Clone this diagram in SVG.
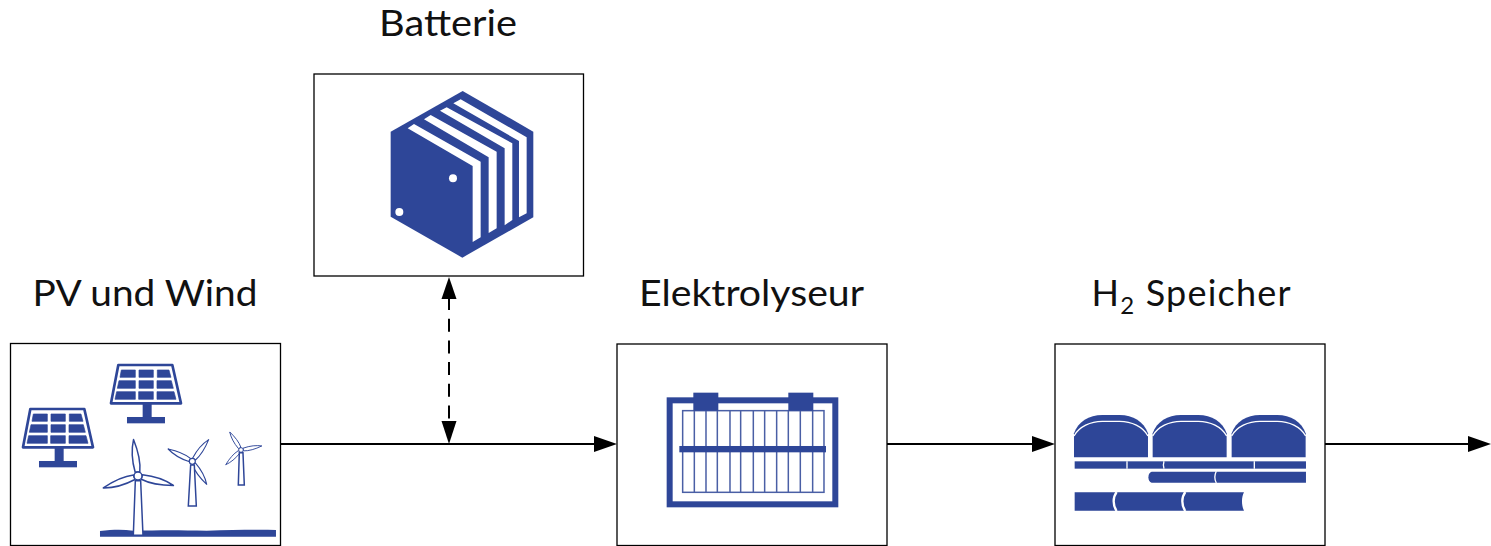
<svg xmlns="http://www.w3.org/2000/svg" xmlns:xlink="http://www.w3.org/1999/xlink" width="1491" height="546" viewBox="0 0 1491 546">
<style>
.box{fill:#fff;stroke:#000;stroke-width:1.3}
.lbl{font-family:"Lato","Carlito","Liberation Sans",sans-serif;font-size:36px;fill:#111}
.n{fill:#2e4698}
.w{fill:#fff}
.blade{fill:#fff;stroke:#2e4698;stroke-width:4.5;stroke-linejoin:round}
.tower{fill:#fff;stroke:#2e4698;stroke-width:4.5}
.con{fill:none;stroke:#000;stroke-width:2}
.grid{fill:none;stroke:#4a5fa5;stroke-width:4.5}
</style>
<defs>
<marker id="arrow" markerUnits="userSpaceOnUse" markerWidth="24" markerHeight="18" refX="3" refY="8" orient="auto-start-reverse"><path d="M0,0L23,8L0,16Z" fill="#000"/></marker>
<g id="panel">
<path d="M355,75H517L543,190H333Z" fill="#fff" stroke="#2e4698" stroke-width="8" stroke-linejoin="round"/>
<path class="n" stroke="#2e4698" stroke-width="2" d="M364,90H406V112H360ZM417,90H460V112H417ZM472,90H507L513,112H472ZM357,122H406V145H352ZM417,122H460V145H417ZM471,122H514L520,145H471ZM350,155H406V178H345ZM416,155H460V178H416ZM471,155H522L528,178H471Z"/>
<rect class="n" x="428" y="190" width="27" height="44"/>
<rect class="n" x="381" y="231" width="114" height="19"/>
</g>
<path id="blade" class="blade" d="M0,-110C10,-72 13,-40 7,-12L-7,-12C-13,-50 -9,-85 0,-110Z"/>
<path id="dome" class="n" d="M0,172V100C12,65 45,45 85,45H137C177,45 210,65 222,100V172Z"/>
<path id="arc" d="M0,108C15,80 50,64 85,64H137C172,64 207,80 222,108" fill="none" stroke="#fff" stroke-width="4"/>
</defs>
<g id="connectors">
<path class="con" d="M281,444H597" marker-end="url(#arrow)"/>
<path class="con" d="M887,444H1035" marker-end="url(#arrow)"/>
<path class="con" d="M1325,444H1471" marker-end="url(#arrow)"/>
<path class="con" d="M449,297V421" stroke-dasharray="13 8.7"/>
<path d="M449,277L456.5,299H441.5Z" fill="#000"/>
<path d="M449,444L456.5,421H441.5Z" fill="#000"/>
</g>
<g id="node-pv">
<rect class="box" x="10.5" y="343.5" width="270" height="202"/>
<text class="lbl" x="32.500" y="306" textLength="225" lengthAdjust="spacingAndGlyphs">PV und Wind</text>
<g transform="translate(0,340) scale(.3333)">
<use href="#panel"/>
<use href="#panel" transform="translate(-264,132)"/>
<path class="n" d="M300,573C340,568 370,568 400,572C480,570 540,570 620,572C700,570 770,569 828,570V590H300Z"/>
<g transform="translate(414,408)"><use href="#blade" transform="rotate(-7)"/><use href="#blade" transform="rotate(-109)"/><use href="#blade" transform="rotate(105)"/></g>
<path class="tower" d="M406,422L400,586H429L422,422Z"/>
<circle cx="414" cy="408" r="12" class="w" stroke="#2e4698" stroke-width="4.500"/>
<g transform="translate(577,364) scale(.74)"><use href="#blade" transform="rotate(-63)"/><use href="#blade" transform="rotate(37)"/><use href="#blade" transform="rotate(148)"/></g>
<path class="tower" d="M572,375L565,498H589L583,375Z" stroke-width="3.500"/>
<circle cx="577" cy="364" r="9" class="w" stroke="#2e4698" stroke-width="3.500"/>
<g transform="translate(723,330) scale(.58)"><use href="#blade" transform="rotate(-32)"/><use href="#blade" transform="rotate(79)"/><use href="#blade" transform="rotate(-134)"/></g>
<path class="tower" d="M718,338L715,435H733L729,338Z" stroke-width="3.500"/>
<circle cx="723" cy="330" r="7" class="w" stroke="#2e4698" stroke-width="3"/>
</g>
</g>
<g id="node-batterie">
<rect class="box" x="314" y="74" width="269.500" height="202"/>
<text class="lbl" x="379" y="36" textLength="138" lengthAdjust="spacingAndGlyphs">Batterie</text>
<g transform="translate(370,80) scale(.3333)">
<path class="n" d="M278,33L490,155V412L277,533L62,410V155Z"/>
<path class="w" d="M113,145L132,132L332,245V472L308,486V258ZM162,118L182,105L380,215V445L356,459V232ZM210,92L230,82L427,190V420L404,436V205ZM250,70L272,58L470,172V400L447,412V183Z"/>
<circle class="w" cx="249" cy="295" r="12"/>
<circle class="w" cx="88" cy="396" r="12"/>
</g>
</g>
<g id="node-elektrolyseur">
<rect class="box" x="617" y="344" width="270" height="201.500"/>
<text class="lbl" x="639" y="306" textLength="225" lengthAdjust="spacingAndGlyphs">Elektrolyseur</text>
<g transform="translate(650,380) scale(.3333)">
<rect x="59" y="61" width="497" height="312" fill="none" stroke="#2e4698" stroke-width="18"/>
<rect class="grid" x="98" y="92" width="424" height="245"/>
<path class="grid" d="M133,92V337M168,92V337M202,92V337M240,92V337M272,92V337M310,92V337M344,92V337M380,92V337M415,92V337M451,92V337M488,92V337"/>
<rect class="n" x="130" y="38" width="75" height="54"/>
<rect class="n" x="415" y="38" width="75" height="54"/>
<rect class="n" x="88" y="198" width="440" height="19"/>
</g>
</g>
<g id="node-h2-speicher">
<rect class="box" x="1055" y="344" width="270" height="201.500"/>
<text class="lbl" x="1091.500" y="306" textLength="199">H<tspan font-size="24" dy="8">2</tspan><tspan dy="-8"> Speicher</tspan></text>
<g transform="translate(1060,400) scale(.3333)">
<use href="#dome" x="42"/><use href="#arc" x="42"/>
<use href="#dome" x="278"/><use href="#arc" x="278"/>
<use href="#dome" x="515"/><use href="#arc" x="515"/>
<rect class="n" x="44" y="184" width="694" height="22"/>
<path d="M201,184V206M312,184C310,190 310,200 312,206M583,184V206" stroke="#fff" stroke-width="4" fill="none"/>
<path class="n" d="M275,215H738V248H275C262,246 262,217 275,215Z"/>
<path d="M469,214C463,226 463,238 469,249" stroke="#fff" stroke-width="4" fill="none"/>
<path class="n" d="M44,277H552C544,292 544,316 552,332H44Z"/>
<path d="M170,276C158,292 158,316 170,333M376,276C364,292 364,316 376,333" stroke="#fff" stroke-width="7" fill="none"/>
</g>
</g>
</svg>
